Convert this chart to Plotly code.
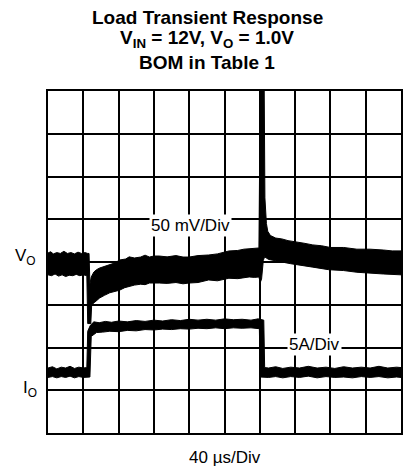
import plotly.graph_objects as go

# ---- data (time in µs, V_O deviation in mV, I_O in A) ----
vo_t_upper = [0, 3, 6, 10, 14, 18, 22, 26, 30, 34, 38, 42, 45, 46.5, 47.5, 49, 52, 55, 58.6, 64, 70, 76, 81, 88, 92,
              98, 105, 110, 115, 120, 126, 135, 145, 153, 160, 170, 182, 192, 205, 215, 222, 228, 234, 239, 240.5,
              245, 245.8, 246.5, 247.5, 249, 252, 258, 265, 272, 280, 290, 300, 310, 320, 335, 350, 365, 380, 390, 400]
vo_upper = [10.5, 12, 9.5, 11, 10, 12.5, 10, 11, 9.5, 11.5, 10, 11, 10, 10, -26, -17.5, -11.7, -9, -7, -5, -3.5, -1,
            2.3, 3.5, 6, 4.7, 5.8, 8, 5.8, 7, 7, 6, 7.5, 5.8, 5.8, 7.5, 8.2, 9.5, 12.9, 13.5, 15, 15.2, 16, 16.4, 200,
            200, 75, 58, 45, 36, 31, 28, 27, 25, 24, 22, 20, 19, 17, 17, 15, 15, 14, 13, 13]

vo_t_lower = [0, 4, 8, 12, 16, 20, 24, 28, 32, 36, 40, 44, 45, 48.5, 49.5, 53, 58.6, 64, 70, 76, 81, 87, 92, 98,
              105, 110, 115, 120, 126, 135, 145, 153, 160, 170, 182, 192, 205, 215, 222, 228, 234, 239, 240.5, 242,
              244, 245.5, 250, 258, 265, 275, 284, 300, 318, 335, 350, 363, 380, 400]
vo_lower = [-15, -16, -14, -16.5, -15, -17, -15.5, -16, -14.5, -16, -15, -16, -72, -72, -50, -47, -42, -39, -36, -34,
            -33, -30, -29, -27, -26, -26.5, -24.6, -25, -24.6, -25, -24, -25.5, -24.6, -24, -21, -22, -19, -19.5,
            -18.5, -17.5, -18, -17.5, -24, -20, 2, 6, 3, 1, 0, -2, -4, -6, -9, -10, -12, -13, -14, -15]

io_t_upper = [0, 5, 10, 15, 20, 25, 30, 35, 40, 44, 45, 48, 52, 58, 65, 72, 80, 90, 100, 110, 120, 130, 140, 150,
              160, 170, 180, 190, 200, 210, 220, 230, 238, 244.5, 245.5, 250, 258, 266, 275, 285, 295, 305, 315,
              325, 335, 345, 355, 365, 375, 385, 395, 400]
io_upper = [2.6, 2.75, 2.5, 2.7, 2.6, 2.8, 2.55, 2.7, 2.6, 2.65, 6.9, 7.6, 8.0, 7.9, 8.05, 7.95, 8.1, 8.0, 8.15,
            8.05, 8.2, 8.1, 8.25, 8.15, 8.3, 8.2, 8.3, 8.2, 8.35, 8.25, 8.3, 8.2, 8.35, 8.2, 2.65, 2.6, 2.75, 2.55,
            2.7, 2.6, 2.8, 2.6, 2.7, 2.55, 2.75, 2.6, 2.7, 2.6, 2.8, 2.6, 2.7, 2.65]

io_t_lower = [0, 5, 10, 15, 20, 25, 30, 35, 40, 47.5, 49, 55, 62, 70, 80, 90, 100, 110, 120, 130, 140, 150, 160,
              170, 180, 190, 200, 210, 220, 230, 239.5, 240.5, 250, 258, 266, 275, 285, 295, 305, 315, 325, 335,
              345, 355, 365, 375, 385, 395, 400]
io_lower = [1.5, 1.6, 1.45, 1.6, 1.5, 1.65, 1.45, 1.6, 1.5, 1.55, 6.3, 6.75, 6.8, 6.9, 6.85, 7.0, 6.95, 7.1, 7.05,
            7.15, 7.1, 7.2, 7.15, 7.25, 7.2, 7.3, 7.2, 7.3, 7.25, 7.3, 7.2, 1.55, 1.5, 1.6, 1.45, 1.6, 1.5, 1.65,
            1.45, 1.6, 1.5, 1.55, 1.45, 1.6, 1.5, 1.6, 1.45, 1.55, 1.5]

title_lines = ["Load Transient Response",
               "V<sub>IN</sub> = 12V, V<sub>O</sub> = 1.0V",
               "BOM in Table 1"]

FONT = "Liberation Sans, Arial, Helvetica, sans-serif"

fig = go.Figure()

fig.add_trace(go.Scatter(
    x=vo_t_upper + vo_t_lower[::-1], y=vo_upper + vo_lower[::-1],
    fill="toself", fillcolor="black", mode="lines", line=dict(color="black", width=1),
    yaxis="y", hoverinfo="skip", showlegend=False))

fig.add_trace(go.Scatter(
    x=io_t_upper + io_t_lower[::-1], y=io_upper + io_lower[::-1],
    fill="toself", fillcolor="black", mode="lines", line=dict(color="black", width=1),
    yaxis="y2", hoverinfo="skip", showlegend=False))

fig.update_layout(
    width=407, height=470,
    margin=dict(l=48, r=4, t=91, b=37),
    paper_bgcolor="white", plot_bgcolor="white",
    font=dict(family=FONT, color="black"),
    xaxis=dict(range=[0, 400], dtick=40, tick0=0, showgrid=True, gridcolor="black", gridwidth=1.5,
               showticklabels=False, ticks="", zeroline=False, showline=True, linecolor="black",
               linewidth=2, mirror=True, fixedrange=True),
    yaxis=dict(range=[-200, 200], dtick=50, tick0=0, showgrid=True, gridcolor="black", gridwidth=1.5,
               showticklabels=False, ticks="", zeroline=False, showline=True, linecolor="black",
               linewidth=2, mirror=True, fixedrange=True),
    yaxis2=dict(range=[-5, 35], overlaying="y", visible=False, fixedrange=True),
    hovermode=False,
)

title_y = [1.215, 1.152, 1.083]
for txt, yy in zip(title_lines, title_y):
    fig.add_annotation(text="<b>" + txt + "</b>", xref="paper", yref="paper", x=0.451, y=yy,
                       xanchor="center", yanchor="middle", showarrow=False,
                       font=dict(family=FONT, size=19, color="black"))

fig.add_annotation(text="50 mV/Div", xref="x", yref="y", x=162, y=43, showarrow=False,
                   xanchor="center", yanchor="middle", bgcolor="white", borderpad=1,
                   font=dict(family=FONT, size=17, color="black"))
fig.add_annotation(text="5A/Div", xref="x", yref="y2", x=302, y=5.3, showarrow=False,
                   xanchor="center", yanchor="middle", bgcolor="white", borderpad=1,
                   font=dict(family=FONT, size=17, color="black"))
fig.add_annotation(text="40 µs/Div", xref="paper", yref="paper", x=0.5, y=-0.073, showarrow=False,
                   xanchor="center", yanchor="middle",
                   font=dict(family=FONT, size=17, color="black"))
fig.add_annotation(text="V<sub>O</sub>", xref="paper", yref="paper", x=-0.065, y=0.515, showarrow=False,
                   xanchor="center", yanchor="middle",
                   font=dict(family=FONT, size=17, color="black"))
fig.add_annotation(text="I<sub>O</sub>", xref="paper", yref="paper", x=-0.05, y=0.13, showarrow=False,
                   xanchor="center", yanchor="middle",
                   font=dict(family=FONT, size=17, color="black"))

fig.write_html("out.html", config={"displayModeBar": False},
               post_script="document.body.style.margin='0';document.body.style.padding='0';")
